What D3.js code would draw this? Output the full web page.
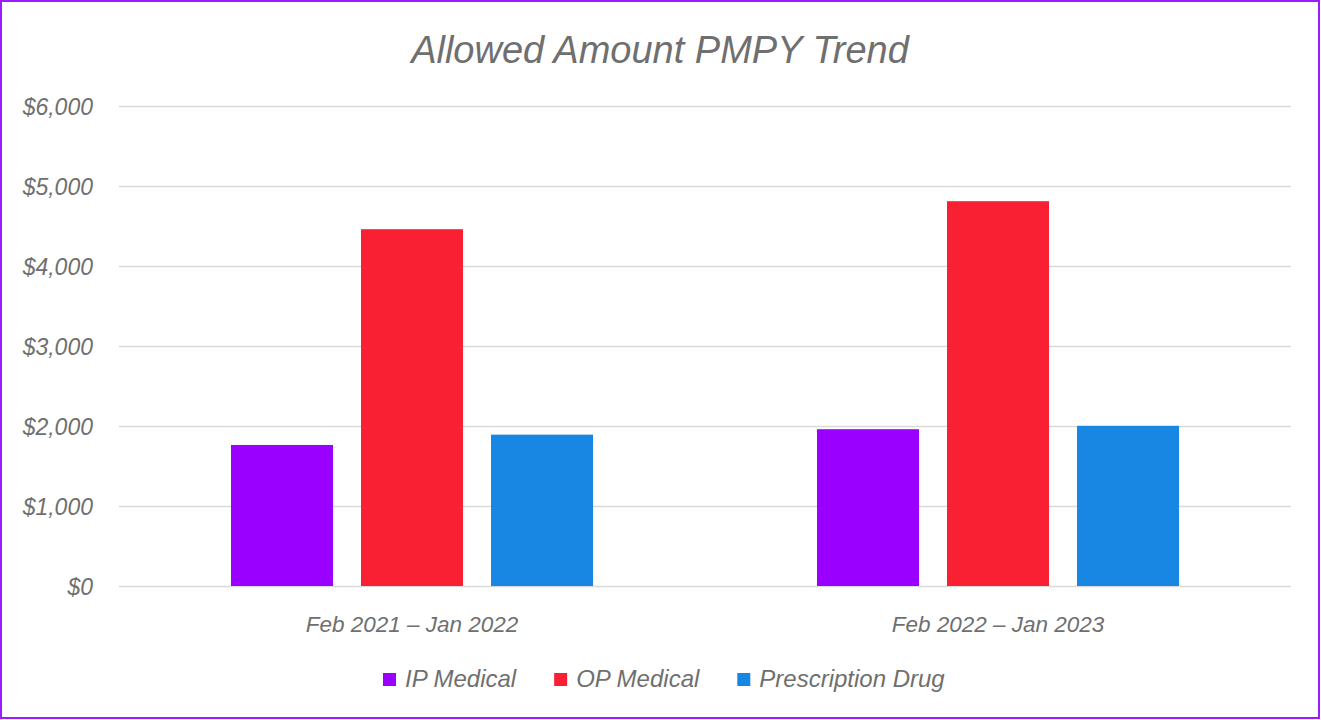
<html>
  <head>
    <meta charset="utf-8" />
    <script src="https://d3js.org/d3.v7.min.js"></script>
    <style>
      body { margin: 0; background: #fff; }
      svg { display: block; }
    </style>
  </head>
  <body>
    <div class="container"></div>
  </body>
</html>

<script>
  const periods = ["Feb 2021 – Jan 2022", "Feb 2022 – Jan 2023"];
  const series = ["IP Medical", "OP Medical", "Prescription Drug"];
  const colors = ["#9900ff", "#fa2033", "#1787e3"];
  const ipMedical = [1763, 1960];
  const opMedical = [4460, 4810];
  const rxDrug = [1892, 2002];
  const yTicks = [0, 1000, 2000, 3000, 4000, 5000, 6000];

  const values = [ipMedical, opMedical, rxDrug];
  const rows = periods.map((p, i) => ({
    period: p,
    vals: series.map((s, j) => ({ key: s, value: values[j][i], color: colors[j] })),
  }));

  const width = 1321;
  const height = 720;
  const font = "'Liberation Sans', Arial, sans-serif";
  const textColor = "#6f6f6f";

  const svg = d3
    .select(".container")
    .append("svg")
    .attr("width", width)
    .attr("height", height)
    .attr("font-family", font)
    .attr("font-style", "italic");

  // outer border
  svg
    .append("rect")
    .attr("x", 1)
    .attr("y", 1)
    .attr("width", width - 3)
    .attr("height", height - 3)
    .attr("fill", "white")
    .attr("stroke", "#9b1dff")
    .attr("stroke-width", 2);

  const x0 = d3.scaleBand().domain(periods).range([119, 1291]);
  const x1 = d3
    .scaleBand()
    .domain(series)
    .range([0, 362])
    .paddingInner(28 / 130);
  const y = d3.scaleLinear().domain([0, 6000]).range([586, 106]);

  svg
    .append("text")
    .attr("x", 660)
    .attr("y", 63)
    .attr("text-anchor", "middle")
    .attr("font-size", 38)
    .attr("fill", textColor)
    .text("Allowed Amount PMPY Trend");

  // y axis with gridlines
  const yAxis = svg
    .append("g")
    .attr("transform", "translate(119,0)")
    .call(
      d3
        .axisLeft(y)
        .tickValues(yTicks)
        .tickSize(-1172)
        .tickPadding(26)
        .tickFormat((d) => "$" + d3.format(",")(d))
    );
  yAxis.select(".domain").remove();
  yAxis.selectAll(".tick line").attr("stroke", "#d9d9d9").attr("stroke-width", 1.5);
  yAxis
    .selectAll(".tick text")
    .attr("font-family", font)
    .attr("font-size", 23)
    .attr("fill", textColor)
    .attr("dy", "0.36em");

  // bars
  const groups = svg
    .append("g")
    .selectAll("g")
    .data(rows)
    .join("g")
    .attr("transform", (d) => `translate(${x0(d.period) + (x0.bandwidth() - 362) / 2},0)`);

  groups
    .selectAll("rect")
    .data((d) => d.vals)
    .join("rect")
    .attr("x", (d) => x1(d.key))
    .attr("width", x1.bandwidth())
    .attr("y", (d) => y(d.value))
    .attr("height", (d) => y(0) - y(d.value))
    .attr("fill", (d) => d.color);

  // x axis labels
  const xAxis = svg
    .append("g")
    .attr("transform", "translate(0,586)")
    .call(d3.axisBottom(x0).tickSize(0).tickPadding(30));
  xAxis.select(".domain").remove();
  xAxis
    .selectAll(".tick text")
    .attr("font-family", font)
    .attr("font-size", 22.5)
    .attr("fill", textColor);

  // legend
  const legend = svg.append("g").attr("transform", "translate(0,687)");
  let lx = 383;
  series.forEach((s, i) => {
    const item = legend.append("g").attr("transform", `translate(${lx},0)`);
    item
      .append("rect")
      .attr("x", 0)
      .attr("y", -14)
      .attr("width", 13)
      .attr("height", 13)
      .attr("fill", colors[i]);
    const t = item
      .append("text")
      .attr("x", 22)
      .attr("y", 0)
      .attr("font-size", 24)
      .attr("fill", textColor)
      .text(s);
    lx += 22 + t.node().getComputedTextLength() + 38;
  });
</script>
